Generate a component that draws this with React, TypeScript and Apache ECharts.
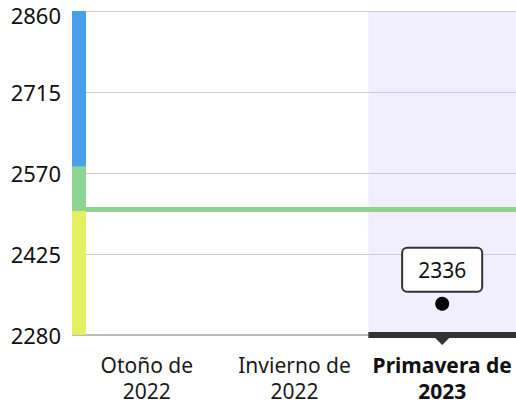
import React, { useEffect, useRef } from "react";
import * as echarts from "echarts";

const categories = ["Otoño de\n2022", "Invierno de\n2022", "Primavera de\n2023"];
const yMin = 2280;
const yMax = 2860;
const yInterval = 145;
const highlightIndex = 2;
const pointValue = 2336;
const referenceLine = 2505;
// [lower, upper] of the colour scale bands
const bandLower = [2581, 2502, 2280];
const bandUpper = [2860, 2581, 2502];
const bandColors = ["#48a0eb", "#8bd491", "#e5ef62"];

export default function App() {
  const ref = useRef<HTMLDivElement>(null);
  useEffect(() => {
    document.body.style.margin = "0";
    const chart = echarts.init(ref.current!, null, { renderer: "svg" });
    const font = "'Noto Sans', sans-serif";
    chart.setOption({
      animation: false,
      grid: { left: 73, right: 0, top: 11, bottom: 69 },
      xAxis: {
        type: "category",
        data: categories,
        axisTick: { show: false },
        axisLine: { lineStyle: { color: "#bbb", width: 2 } },
        axisLabel: {
          interval: 0,
          margin: 17,
          fontFamily: font,
          fontSize: 21,
          lineHeight: 26,
          color: "#1a1a1a",
          formatter: (v: string, i: number) => {
            if (i === highlightIndex) {
              return v
                .split("\n")
                .map((s) => "{b|" + s + "}")
                .join("\n");
            }
            return v;
          },
          rich: {
            b: {
              fontFamily: font,
              fontSize: 21,
              lineHeight: 26,
              fontWeight: "bold",
              color: "#111",
            },
          },
        },
      },
      yAxis: {
        type: "value",
        min: yMin,
        max: yMax,
        interval: yInterval,
        axisLine: { show: false },
        axisTick: { show: false },
        splitLine: { lineStyle: { color: "#ccc", width: 1 } },
        axisLabel: {
          fontFamily: font,
          fontSize: 22,
          color: "#111",
          margin: 12,
          formatter: (v: number) => (v === yMax ? "{t|" + v + "}" : String(v)),
          rich: {
            t: { fontFamily: font, fontSize: 22, color: "#111", padding: [8, 0, 0, 0] },
          },
        },
      },
      series: [
        {
          type: "bar",
          data: categories.map((_, i) => (i === highlightIndex ? yMax : null)),
          barWidth: "100%",
          itemStyle: { color: "rgba(200,190,255,0.25)" },
          silent: true,
          z: 1,
        },
        {
          type: "scatter",
          data: [[highlightIndex, pointValue]],
          symbol: "circle",
          symbolSize: 14,
          itemStyle: { color: "#000", opacity: 1 },
          z: 5,
          label: {
            show: true,
            position: "top",
            distance: 6,
            formatter: String(pointValue),
            fontFamily: font,
            fontSize: 21,
            lineHeight: 26,
            color: "#111",
            opacity: 1,
            backgroundColor: "#fff",
            borderColor: "#333",
            borderWidth: 2,
            borderRadius: 4,
            padding: [8, 15, 8, 15],
          },
          markLine: {
            silent: true,
            symbol: "none",
            label: { show: false },
            lineStyle: { color: "#8bd491", width: 5, type: "solid", opacity: 1 },
            data: [{ yAxis: referenceLine }],
          },
        },
        {
          type: "custom",
          data: bandLower.map((lo, i) => [0, lo, bandUpper[i], i]),
          encode: { x: 0, y: [1, 2] },
          z: 6,
          silent: true,
          renderItem: (params: any, api: any) => {
            const cs = params.coordSys;
            const yLo = api.coord([0, api.value(1)])[1];
            const yHi = api.coord([0, api.value(2)])[1];
            return {
              type: "rect",
              shape: { x: cs.x - 1, y: yHi, width: 14, height: yLo - yHi },
              style: { fill: bandColors[api.value(3)] },
            };
          },
        },
        {
          type: "custom",
          data: [[highlightIndex, yMin]],
          z: 7,
          silent: true,
          clip: false,
          renderItem: (params: any, api: any) => {
            const p = api.coord([api.value(0), api.value(1)]);
            const bw = api.size([1, 0])[0];
            return {
              type: "group",
              children: [
                {
                  type: "rect",
                  shape: { x: p[0] - bw / 2, y: p[1] - 3, width: bw, height: 6 },
                  style: { fill: "#333" },
                },
                {
                  type: "polygon",
                  shape: {
                    points: [
                      [p[0] - 7, p[1] + 3],
                      [p[0] + 7, p[1] + 3],
                      [p[0], p[1] + 10],
                    ],
                  },
                  style: { fill: "#333" },
                },
              ],
            };
          },
        },
      ],
    });
    return () => chart.dispose();
  }, []);
  return <div ref={ref} style={{ width: 516, height: 404 }} />;
}
